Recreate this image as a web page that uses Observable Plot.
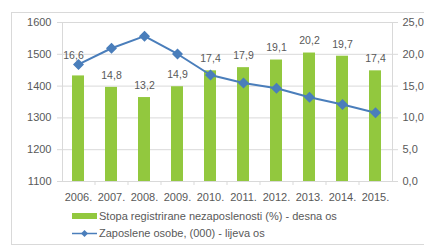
<!DOCTYPE html>
<html>
<head>
<meta charset="utf-8">
<script src="https://cdn.jsdelivr.net/npm/d3@7"></script>
<script src="https://cdn.jsdelivr.net/npm/@observablehq/plot@0.6"></script>
<style>
  html, body { margin: 0; padding: 0; background: #fff; }
  body { width: 424px; height: 248px; position: relative; overflow: hidden; font-family: "Liberation Sans", Arial, sans-serif; }
  #frame { position: absolute; left: 11px; top: 12px; width: 440px; height: 233px; border: 1px solid #d9d9d9; box-sizing: border-box; }
  #chart { position: absolute; left: 0; top: 0; }
  .leg { position: absolute; left: 72px; font-size: 11px; color: #595959; display: flex; align-items: center; white-space: nowrap; }
  .sw { width: 25px; height: 6px; background: #92c83e; margin-right: 2px; }
  .ln { width: 25px; height: 9px; margin-right: 2px; position: relative; }
</style>
</head>
<body>
<div id="frame"></div>
<div id="chart"></div>
<div class="leg" style="top:210px"><div class="sw"></div><span id="l1"></span></div>
<div class="leg" style="top:227px"><svg class="ln" width="25" height="9"><line x1="0" y1="4.5" x2="25" y2="4.5" stroke="#4a7ebb" stroke-width="1.5"/><path d="M12.5,1 L16,4.5 L12.5,8 L9,4.5Z" fill="#4a7ebb"/></svg><span id="l2"></span></div>
<script>
const years = ["2006.", "2007.", "2008.", "2009.", "2010.", "2011.", "2012.", "2013.", "2014.", "2015."];
const unemploymentRate = [16.6, 14.8, 13.2, 14.9, 17.4, 17.9, 19.1, 20.2, 19.7, 17.4];
const employed = [1468, 1519, 1557, 1501, 1435, 1410, 1393, 1365, 1342, 1316];
const leftTicks = [1100, 1200, 1300, 1400, 1500, 1600];
const rightTicks = [0, 5, 10, 15, 20, 25];
const seriesNames = ["Stopa registrirane nezaposlenosti (%) - desna os", "Zaposlene osobe, (000) - lijeva os"];

document.getElementById("l1").textContent = seriesNames[0];
document.getElementById("l2").textContent = seriesNames[1];

// map right-axis (%) values onto the left-axis domain
const leftMin = 1100, leftMax = 1600, rightMax = 25;
const toLeft = v => leftMin + v / rightMax * (leftMax - leftMin);
const comma = v => v.toFixed(1).replace(".", ",");

const data = years.map((y, i) => ({year: y, rate: unemploymentRate[i], emp: employed[i]}));
const green = "#92c83e", blue = "#4a7ebb", grid = "#d9d9d9", txt = "#595959";

const chart = Plot.plot({
  width: 424,
  height: 205,
  marginTop: 22,
  marginBottom: 24,
  marginLeft: 62,
  marginRight: 32,
  style: {fontFamily: "Liberation Sans, Arial, sans-serif", fontSize: "11px", color: txt, background: "transparent"},
  x: {domain: years, paddingInner: 0.63, paddingOuter: 0.315},
  y: {domain: [leftMin, leftMax]},
  marks: [
    Plot.ruleY(leftTicks, {stroke: grid, strokeWidth: 1}),
    Plot.frame({stroke: grid, strokeWidth: 1}),
    Plot.barY(data, {x: "year", y1: leftMin, y2: d => toLeft(d.rate), fill: green}),
    Plot.ruleX(years.slice(1), {x: d => d, y1: leftMin, y2: leftMin, dx: -16.5, insetBottom: -4, stroke: grid}),
    Plot.line(data, {x: "year", y: "emp", stroke: blue, strokeWidth: 2}),
    Plot.dot(data, {x: "year", y: "emp", symbol: "diamond2", r: 4, fill: blue, stroke: blue}),
    Plot.text(data.slice(1), {x: "year", y: d => toLeft(d.rate), text: d => comma(d.rate), dy: -12, fill: txt, fontSize: 10.5}),
    Plot.text(data.slice(0, 1), {x: "year", y: d => toLeft(d.rate), text: d => comma(d.rate), dy: -20, dx: -5, fill: txt, fontSize: 10.5}),
    Plot.axisY({anchor: "left", ticks: leftTicks, tickFormat: d => String(d), tickSize: 5, tickPadding: 6, stroke: grid, label: null, color: txt}),
    Plot.axisY({anchor: "right", ticks: rightTicks.map(toLeft), tickFormat: t => comma((t - leftMin) / (leftMax - leftMin) * rightMax), tickSize: 5, tickPadding: 5, stroke: grid, label: null, color: txt}),
    Plot.axisX({anchor: "bottom", tickSize: 0, tickPadding: 12, label: null, color: txt})
  ]
});
document.getElementById("chart").appendChild(chart);
</script>
</body>
</html>
